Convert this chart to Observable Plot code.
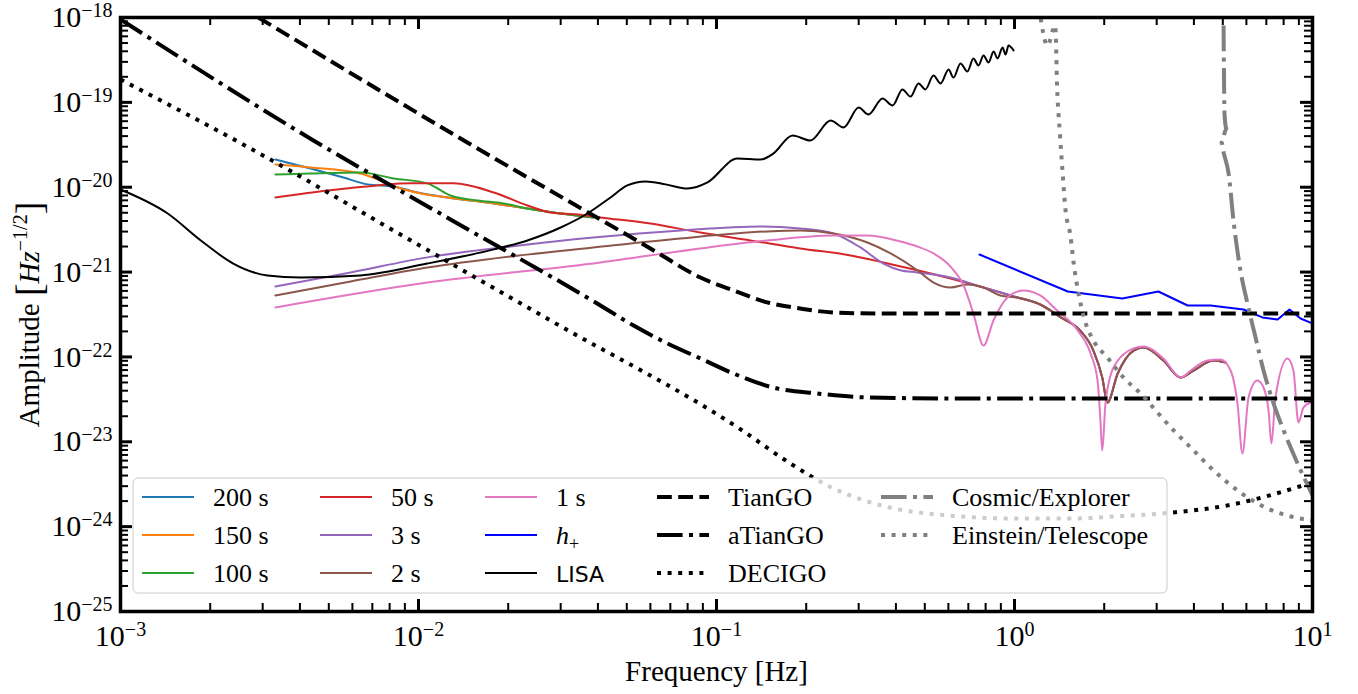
<!DOCTYPE html>
<html><head><meta charset="utf-8">
<script src="https://cdn.jsdelivr.net/npm/d3@7"></script>
<script src="https://cdn.jsdelivr.net/npm/@observablehq/plot@0.6"></script>
<style>
html,body{margin:0;padding:0;background:#fff;}
#chart{position:relative;width:1358px;height:694px;overflow:hidden;}
#chart svg{display:block;}
</style></head><body><div id="chart"></div>
<script>
// ---------- data: [frequency (Hz), amplitude (Hz^-1/2)] ----------
const s200 = [[3.31e-3,2.12e-20],[4.34e-3,1.66e-20],[5.60e-3,1.30e-20],[6.75e-3,1.08e-20],[8.24e-3,1.02e-20],[9.93e-3,8.67e-21],[1.25e-2,7.57e-21],[1.79e-2,6.43e-21],[2.32e-2,5.61e-21],[3.0e-2,4.90e-21],[3.86e-2,4.40e-21]];
const s150 = [[3.31e-3,1.85e-20],[4.34e-3,1.71e-20],[6.38e-3,1.45e-20],[7.46e-3,1.20e-20],[8.71e-3,9.66e-21],[1.02e-2,8.44e-21],[1.25e-2,7.57e-21],[1.79e-2,6.43e-21],[2.32e-2,5.61e-21],[3.0e-2,4.90e-21],[3.86e-2,4.40e-21]];
const s100 = [[3.31e-3,1.41e-20],[4.34e-3,1.45e-20],[6.38e-3,1.49e-20],[8.24e-3,1.27e-20],[1.07e-2,1.11e-20],[1.28e-2,7.98e-21],[1.58e-2,6.97e-21],[1.93e-2,6.43e-21],[2.32e-2,5.61e-21],[3.0e-2,4.90e-21],[3.86e-2,4.40e-21]];
const tail = [[1.22,4.15e-22],[1.43,2.92e-22],[1.66,2.05e-22],[1.84,1.19e-22],[1.97,5.73e-23],[2.05,2.90e-23],[2.22,6.38e-23],[2.51,1.19e-22],[2.71,1.29e-22],[3.16,9.08e-23],[3.61,5.73e-23],[3.99,6.92e-23],[4.66,9.08e-23],[5.11,8.59e-23]];
const s50 = [[3.31e-3,7.57e-21],[4.95e-3,9.15e-21],[7.28e-3,1.05e-20],[9.40e-3,1.11e-20],[1.31e-2,1.11e-20],[1.79e-2,8.67e-21],[2.32e-2,6.10e-21],[2.77e-2,5.04e-21],[3.42e-2,4.78e-21],[4.08e-2,4.40e-21],[6.0e-2,3.73e-21],[8.83e-2,2.92e-21],[0.130,2.36e-21],[0.191,1.90e-21],[0.282,1.57e-21],[0.363,1.30e-21],[0.472,1.05e-21],[0.610,8.40e-22],[0.787,6.58e-22],[1.023,5.01e-22]].concat(tail);
const s3 = [[3.31e-3,6.76e-22],[5.92e-3,9.89e-22],[1.07e-2,1.49e-21],[2.04e-2,2.0e-21],[3.86e-2,2.55e-21],[7.57e-2,3.09e-21],[0.1406,3.44e-21],[0.191,3.27e-21],[0.247,2.85e-21],[0.304,1.95e-21],[0.363,1.26e-21],[0.414,1.05e-21],[0.472,9.89e-22],[0.610,8.63e-22],[0.787,6.58e-22],[1.023,5.01e-22]].concat(tail);
const s2 = [[3.31e-3,5.30e-22],[5.92e-3,7.74e-22],[1.07e-2,1.13e-21],[2.04e-2,1.53e-21],[3.86e-2,1.95e-21],[7.57e-2,2.49e-21],[0.148,3.01e-21],[0.191,3.09e-21],[0.247,2.85e-21],[0.321,2.23e-21],[0.384,1.66e-21],[0.472,1.05e-21],[0.535,7.53e-22],[0.610,6.58e-22],[0.695,7.14e-22],[0.787,6.58e-22],[0.898,5.30e-22],[1.023,5.01e-22]].concat(tail);
const s1 = [[3.31e-3,3.83e-22],[1.07e-2,7.53e-22],[4.08e-2,1.30e-21],[8.83e-2,1.90e-21],[0.148,2.36e-21],[0.247,2.70e-21],[0.321,2.70e-21],[0.414,2.29e-21],[0.472,2.0e-21],[0.535,1.66e-21],[0.610,1.16e-21],[0.675,6.95e-22],[0.728,3.25e-22],[0.787,1.36e-22],[0.850,2.69e-22],[0.947,5.01e-22],[1.07,6.07e-22],[1.22,5.30e-22],[1.39,3.52e-22],[1.63,2.05e-22],[1.80,1.10e-22],[1.90,5.27e-23],[1.94,1.93e-23],[1.97,7.88e-24],[2.02,2.83e-23],[2.15,7.52e-23],[2.51,1.26e-22],[2.71,1.33e-22],[3.16,9.6e-23],[3.61,5.73e-23],[3.90,6.92e-23],[4.44,9.08e-23],[4.91,9.33e-23],[5.31,6.92e-23],[5.60,2.83e-23],[5.82,7.28e-24],[6.10,3.33e-23],[6.53,5.27e-23],[6.85,4.36e-23],[7.12,2.34e-23],[7.28,9.55e-24],[7.51,3.33e-23],[8.24,9.6e-23],[8.63,6.92e-23],[8.97,1.69e-23],[9.33,2.54e-23],[9.85,2.90e-23]];
const hPlus = [[0.763,1.61e-21],[1.51,5.90e-22],[2.30,4.89e-22],[3.04,5.90e-22],[3.81,4.04e-22],[4.55,4.04e-22],[5.87,3.62e-22],[6.79,2.92e-22],[7.64,2.76e-22],[8.37,3.62e-22],[9.12,2.84e-22],[10,2.48e-22]];
const lisa = [[1e-3,9.4e-21],[1.44e-3,4.9e-21],[1.86e-3,2.36e-21],[2.39e-3,1.26e-21],[3.11e-3,9.12e-22],[4.02e-3,8.63e-22],[6.38e-3,9.12e-22],[1.07e-2,1.26e-21],[1.79e-2,1.85e-21],[2.32e-2,2.36e-21],[3.0e-2,3.35e-21],[3.69e-2,4.9e-21],[4.41e-2,7.57e-21],[5.02e-2,1.05e-20],[5.78e-2,1.17e-20],[6.75e-2,1.08e-20],[8.0e-2,9.66e-21],[9.33e-2,1.14e-20],[0.1175,2.18e-20],[0.1406,2.12e-20],[0.155,2.49e-20],[0.180,4.07e-20],[0.2065,3.56e-20],[0.2415,6.11e-20],[0.267,5.06e-20],[0.300,8.69e-20],[0.3236,7.19e-20],[0.3606,1.11e-19],[0.390,9.18e-20],[0.4207,1.42e-19],[0.4477,1.17e-19],[0.4764,1.67e-19],[0.5023,1.42e-19],[0.5346,2.07e-19],[0.565,1.67e-19],[0.601,2.44e-19],[0.624,1.96e-19],[0.659,2.87e-19],[0.695,2.31e-19],[0.728,3.29e-19],[0.757,2.72e-19],[0.787,3.57e-19],[0.818,2.95e-19],[0.851,3.97e-19],[0.877,3.29e-19],[0.912,4.43e-19],[0.933,3.66e-19],[0.955,4.68e-19],[0.993,4.08e-19]];
const tianGO = [[2.9e-3,1e-18],[1.42e-2,3.56e-20],[6.0e-2,1.9e-21],[8.83e-2,8.63e-22],[0.114,6.07e-22],[0.148,4.39e-22],[0.191,3.72e-22],[0.247,3.34e-22],[0.355,3.25e-22],[10,3.25e-22]];
const aTianGO = [[1e-3,9.5e-19],[4.44e-3,3.56e-20],[1.28e-2,4.17e-21],[4.08e-2,4.04e-22],[5.27e-2,2.34e-22],[6.85e-2,1.44e-22],[8.83e-2,9.6e-23],[0.114,6.38e-23],[0.155,4.36e-23],[0.218,3.71e-23],[0.321,3.33e-23],[0.61,3.24e-23],[10,3.24e-23]];
const decigo = [[1e-3,1.86e-19],[2.73e-3,2.86e-20],[8.7e-3,2.77e-21],[2.77e-2,2.69e-22],[0.1205,1.40e-23],[0.177,5.55e-24],[0.247,2.82e-24],[0.381,1.68e-24],[0.605,1.35e-24],[0.97,1.25e-24],[1.61,1.25e-24],[2.17,1.32e-24],[3.42,1.47e-24],[5.14,1.77e-24],[10,3.31e-24]];
const cosmicExplorer = [[5.03,8.05e-19],[5.07,7.0e-20],[5.14,4.92e-20],[4.95,3.37e-20],[5.03,2.57e-20],[5.23,1.45e-20],[5.43,4.06e-21],[5.73,1.05e-21],[6.05,4.27e-22],[6.44,1.69e-22],[6.85,6.92e-23],[7.40,2.83e-23],[8.0,1.36e-23],[8.91,5.55e-24],[10,2.33e-24]];
const einsteinTelescope = [[1.21,1.3e-18],[1.29,4.68e-19],[1.37,8.05e-19],[1.39,1.50e-19],[1.42,4.30e-20],[1.45,1.49e-20],[1.48,5.77e-21],[1.54,2.70e-21],[1.58,1.26e-21],[1.64,5.60e-22],[1.71,2.92e-22],[1.84,1.56e-22],[2.05,9.84e-23],[2.32,5.73e-23],[2.65,3.71e-23],[3.02,2.21e-23],[3.42,1.36e-23],[3.90,8.57e-24],[4.66,4.59e-24],[5.73,2.53e-24],[6.95,1.68e-24],[8.44,1.32e-24],[10,1.18e-24]];

// tick values
const xMajor = [1e-3, 1e-2, 1e-1, 1, 10];
const yMajor = [1e-25, 1e-24, 1e-23, 1e-22, 1e-21, 1e-20, 1e-19, 1e-18];
const mult = [2,3,4,5,6,7,8,9];
const xMinor = xMajor.slice(0,-1).flatMap(d => mult.map(m => d*m));
const yMinor = yMajor.slice(0,-1).flatMap(d => mult.map(m => d*m));

// series styles (in legend order)
const series = [
  {label:"200 s", data:s200, color:"#1f77b4", w:2},
  {label:"150 s", data:s150, color:"#ff7f0e", w:2},
  {label:"100 s", data:s100, color:"#2ca02c", w:2},
  {label:"50 s", data:s50, color:"#d62728", w:2},
  {label:"3 s", data:s3, color:"#9467bd", w:2},
  {label:"2 s", data:s2, color:"#8c564b", w:2},
  {label:"1 s", data:s1, color:"#e377c2", w:2},
  {label:"h_+", data:hPlus, color:"#0000ff", w:2, curve:"linear"},
  {label:"LISA", data:lisa, color:"#000000", w:2, sans:true},
  {label:"TianGO", data:tianGO, color:"#000000", w:4, dash:"14.8,6.4"},
  {label:"aTianGO", data:aTianGO, color:"#000000", w:4, dash:"25.6,6.4,4,6.4"},
  {label:"DECIGO", data:decigo, color:"#000000", w:4, dash:"4,6.6"},
  {label:"Cosmic/Explorer", data:cosmicExplorer, color:"#808080", w:4, dash:"25.6,6.4,4,6.4"},
  {label:"Einstein/Telescope", data:einsteinTelescope, color:"#808080", w:4, dash:"4,6.6"}
];

const W = 1358, H = 694, mL = 120, mR = 46, mT = 17, mB = 83;
const plotW = W - mL - mR, plotH = H - mT - mB;
const SERIF = "'Liberation Serif', 'Times New Roman', serif";
const fmt = d => "10^" + String(Math.round(Math.log10(d))).replace("-", "\u2212");

const lineMarks = series.map(s => Plot.line(s.data, {
  x: d => d[0], y: d => d[1], stroke: s.color, strokeWidth: s.w,
  strokeDasharray: s.dash, strokeLinecap: s.dash ? "butt" : "round",
  curve: s.curve || "monotone-x", clip: true
}));

const chart = Plot.plot({
  width: W, height: H,
  marginLeft: mL, marginRight: mR, marginTop: mT, marginBottom: mB,
  style: {fontFamily: SERIF, fontSize: "30px", color: "black", background: "white"},
  x: {type: "log", domain: [1e-3, 10], ticks: xMajor, tickFormat: fmt, tickSize: 0, tickPadding: 13, label: null},
  y: {type: "log", domain: [1e-25, 1e-18], ticks: yMajor, tickFormat: fmt, tickSize: 0, tickPadding: 8, label: null},
  marks: [
    ...lineMarks,
    Plot.frame({stroke: "black", strokeWidth: 3.5}),
    Plot.tickX(xMajor, {x: d => d, insetTop: plotH - 12, stroke: "black", strokeWidth: 3}),
    Plot.tickX(xMajor, {x: d => d, insetBottom: plotH - 12, stroke: "black", strokeWidth: 3}),
    Plot.tickX(xMinor, {x: d => d, insetTop: plotH - 8, stroke: "black", strokeWidth: 2}),
    Plot.tickX(xMinor, {x: d => d, insetBottom: plotH - 8, stroke: "black", strokeWidth: 2}),
    Plot.tickY(yMajor, {y: d => d, insetRight: plotW - 12, stroke: "black", strokeWidth: 3}),
    Plot.tickY(yMajor, {y: d => d, insetLeft: plotW - 12, stroke: "black", strokeWidth: 3}),
    Plot.tickY(yMinor, {y: d => d, insetRight: plotW - 8, stroke: "black", strokeWidth: 2}),
    Plot.tickY(yMinor, {y: d => d, insetLeft: plotW - 8, stroke: "black", strokeWidth: 2}),
    Plot.text(["Frequency [Hz]"], {text: d => d, frameAnchor: "bottom", textAnchor: "middle", lineAnchor: "middle", dy: 60, fontSize: 29, fill: "black"}),
    Plot.text(["@@YLABEL@@"], {text: d => d, frameAnchor: "left", textAnchor: "middle", lineAnchor: "middle", dx: -91, rotate: -90, fontSize: 29, fill: "black"})
  ]
});
document.getElementById("chart").appendChild(chart);

const NS = "http://www.w3.org/2000/svg";
function tspan(parent, txt, attrs) {
  const t = document.createElementNS(NS, "tspan");
  t.textContent = txt;
  for (const k in (attrs || {})) t.setAttribute(k, attrs[k]);
  parent.appendChild(t);
  return t;
}
// superscript tick labels
chart.querySelectorAll('g[aria-label^="x-axis"] text, g[aria-label^="y-axis"] text').forEach(el => {
  const s = el.textContent, i = s.indexOf("^");
  if (i < 0) return;
  el.textContent = "";
  tspan(el, s.slice(0, i));
  tspan(el, s.slice(i + 1), {dy: "-10", "font-size": "20"});
});
// rich y label
chart.querySelectorAll("text").forEach(el => {
  if (el.textContent !== "@@YLABEL@@") return;
  el.textContent = "";
  tspan(el, "Amplitude ");
  tspan(el, "[", {"font-size": "38", dy: "3"});
  tspan(el, "Hz", {"font-style": "italic", dy: "-3"});
  tspan(el, "\u22121/2", {"font-size": "20", dy: "-12"});
  tspan(el, "]", {"font-size": "38", dy: "15"});
});

// legend
const svg = d3.select(chart);
const lg = svg.append("g");
lg.append("rect").attr("x", 133).attr("y", 478).attr("width", 1034).attr("height", 115).attr("rx", 5)
  .attr("fill", "white").attr("fill-opacity", 0.8).attr("stroke", "#cccccc").attr("stroke-width", 1);
const legendX = [142, 320, 485, 657, 881];
const legendY = [497, 535, 573];
series.forEach((s, i) => {
  const x0 = legendX[Math.floor(i / 3)], y0 = legendY[i % 3];
  lg.append("line").attr("x1", x0).attr("x2", x0 + 52).attr("y1", y0).attr("y2", y0)
    .attr("stroke", s.color).attr("stroke-width", s.w).attr("stroke-dasharray", s.dash || null)
    .attr("stroke-linecap", "butt");
  const t = lg.append("text").attr("x", x0 + 71).attr("y", y0 + 9)
    .attr("text-anchor", "start")
    .attr("font-family", s.sans ? "'DejaVu Sans', sans-serif" : SERIF)
    .attr("font-size", s.sans ? 22 : 26).attr("fill", "black");
  if (s.label === "h_+") {
    tspan(t.node(), "h", {"font-style": "italic"});
    tspan(t.node(), "+", {"font-size": "18", dy: "6"});
  } else t.text(s.label);
});
</script></body></html>
